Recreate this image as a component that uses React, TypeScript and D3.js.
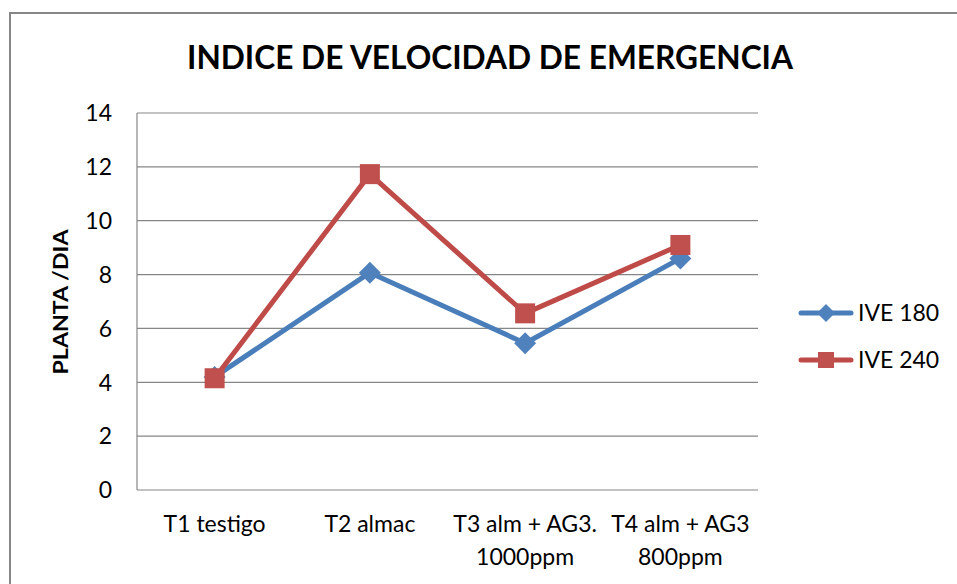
import React from "react";
import * as d3 from "d3";

const categories = ["T1 testigo", "T2 almac", "T3 alm + AG3. 1000ppm", "T4 alm + AG3 800ppm"];
const categoryLines = [["T1 testigo"], ["T2 almac"], ["T3 alm + AG3.", "1000ppm"], ["T4 alm + AG3", "800ppm"]];
const ive180 = [4.2, 8.07, 5.45, 8.6];
const ive240 = [4.15, 11.73, 6.56, 9.1];
const yTicks = [0, 2, 4, 6, 8, 10, 12, 14];
const seriesNames = ["IVE 180", "IVE 240"];
const title = "INDICE DE VELOCIDAD DE EMERGENCIA";
const yTitle = "PLANTA /DIA";

const W = 957;
const H = 584;
const plot = { left: 137, right: 758, top: 113, bottom: 490 };
const FONT = "Lato, 'Open Sans', sans-serif";
const BLUE = "#4A7EBB";
const BLUE_M = "#4F81BD";
const RED = "#BE4B48";
const RED_M = "#C0504D";
const GRID = "#868686";

export default function App() {
  const x = d3.scaleBand<string>().domain(categories).range([plot.left, plot.right]).padding(0);
  const y = d3.scaleLinear().domain([0, 14]).range([plot.bottom, plot.top]);
  const cx = (c: string) => (x(c) as number) + x.bandwidth() / 2;
  const line = d3
    .line<number>()
    .x((_, i) => cx(categories[i]))
    .y((d) => y(d));

  const series = [
    { name: seriesNames[0], values: ive180, color: BLUE, marker: BLUE_M, shape: "diamond" },
    { name: seriesNames[1], values: ive240, color: RED, marker: RED_M, shape: "square" },
  ];

  const drawMarker = (shape: string, px: number, py: number, size: number, fill: string, key: string) => {
    if (shape === "square") {
      return <rect key={key} x={px - size / 2} y={py - size / 2} width={size} height={size} fill={fill} />;
    }
    const r = size / 2 + 1;
    return (
      <path
        key={key}
        d={`M${px},${py - r}L${px + r},${py}L${px},${py + r}L${px - r},${py}Z`}
        fill={fill}
      />
    );
  };

  return (
    <svg
      width={W}
      height={H}
      style={{ position: "absolute", left: 0, top: 0, background: "#fff" }}
      fontFamily={FONT}
    >
      <rect x={0} y={0} width={W} height={H} fill="#fff" />
      <rect x={10} y={13} width={W + 20} height={H + 20} fill="#fff" stroke={GRID} strokeWidth={2} />

      <text
        x={490}
        y={69}
        textAnchor="middle"
        fontSize={32}
        fontWeight="bold"
        fill="#000"
        textLength={606}
        lengthAdjust="spacingAndGlyphs"
      >
        {title}
      </text>

      {yTicks.map((t) => (
        <g key={t}>
          <line x1={plot.left} x2={plot.right} y1={y(t)} y2={y(t)} stroke={GRID} strokeWidth={1.2} />
          <text x={112} y={y(t)} dy="0.36em" textAnchor="end" fontSize={23} fill="#000">
            {t}
          </text>
        </g>
      ))}
      <line x1={plot.left} x2={plot.left} y1={plot.top} y2={plot.bottom} stroke={GRID} strokeWidth={1.2} />

      <text
        transform={`translate(68,302) rotate(-90)`}
        textAnchor="middle"
        fontSize={21}
        fontWeight="bold"
        fill="#000"
        textLength={145}
        lengthAdjust="spacingAndGlyphs"
      >
        {yTitle}
      </text>

      {categories.map((c, i) => (
        <g key={c}>
          {categoryLines[i].map((ln, j) => (
            <text key={j} x={cx(c)} y={532 + j * 33} textAnchor="middle" fontSize={23} fill="#000">
              {ln}
            </text>
          ))}
        </g>
      ))}

      {series.map((s) => (
        <g key={s.name}>
          <path d={line(s.values) || ""} fill="none" stroke={s.color} strokeWidth={5} strokeLinejoin="round" />
          {s.values.map((v, i) => drawMarker(s.shape, cx(categories[i]), y(v), 20, s.marker, s.name + i))}
        </g>
      ))}

      {series.map((s, i) => {
        const ly = 313 + i * 47;
        return (
          <g key={"lg" + s.name}>
            <line x1={801} x2={851} y1={ly} y2={ly} stroke={s.color} strokeWidth={5} strokeLinecap="round" />
            {drawMarker(s.shape, 826, ly, 16, s.marker, "lm" + i)}
            <text x={858} y={ly} dy="0.36em" fontSize={23} fill="#000">
              {s.name}
            </text>
          </g>
        );
      })}
    </svg>
  );
}
